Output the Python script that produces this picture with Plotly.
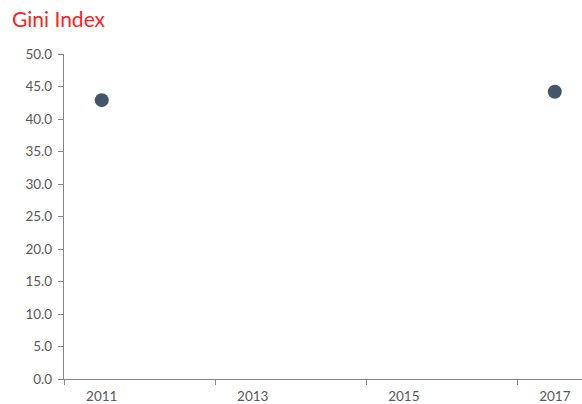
import plotly.graph_objects as go

years = [2011, 2017]
gini = [42.9, 44.2]
tick_labels = ["2011", "2013", "2015", "2017"]
tick_years = [2011, 2013, 2015, 2017]

fig = go.Figure()
fig.add_trace(go.Scatter(
    x=years, y=gini, mode="markers",
    marker=dict(size=14, color="#44546A"),
    hoverinfo="x+y", showlegend=False, cliponaxis=False,
))

axis_color = "#868686"
font_color = "#595959"
fig.update_layout(
    width=582, height=404,
    margin=dict(l=64, r=0, t=54, b=25, autoexpand=False),
    paper_bgcolor="white", plot_bgcolor="white",
    font=dict(family="Lato, Open Sans, sans-serif", size=13.5, color=font_color),
    title=dict(text="Gini Index", x=12/582, xref="container", xanchor="left",
               y=1 - 20/404, yref="container", yanchor="middle",
               font=dict(size=21, color="#FF2020", family="Lato, sans-serif"),
               pad=dict(l=0, t=0, b=0, r=0)),
    xaxis=dict(range=[2010.5, 2017.36], tickvals=tick_years, ticktext=tick_labels,
               ticks="", showgrid=False, zeroline=False, showline=True, automargin=False,
               linecolor=axis_color, linewidth=1.3, ticklabelstandoff=5,
               minor=dict(ticks="outside", tick0=2010.5, dtick=2, ticklen=5,
                          tickcolor=axis_color, showgrid=False),
               tickfont=dict(size=13.5, color=font_color)),
    yaxis=dict(range=[0, 50], dtick=5, tickformat=".1f", ticks="outside", ticklen=5,
               tickcolor=axis_color, showgrid=False, zeroline=False, showline=True,
               automargin=False, linecolor=axis_color, linewidth=1.3, ticklabelstandoff=3,
               tickfont=dict(size=13.5, color=font_color)),
)
fig.write_html("out.html", config={"displayModeBar": False},
               post_script="document.body.style.margin='0';document.body.style.overflow='hidden';")
